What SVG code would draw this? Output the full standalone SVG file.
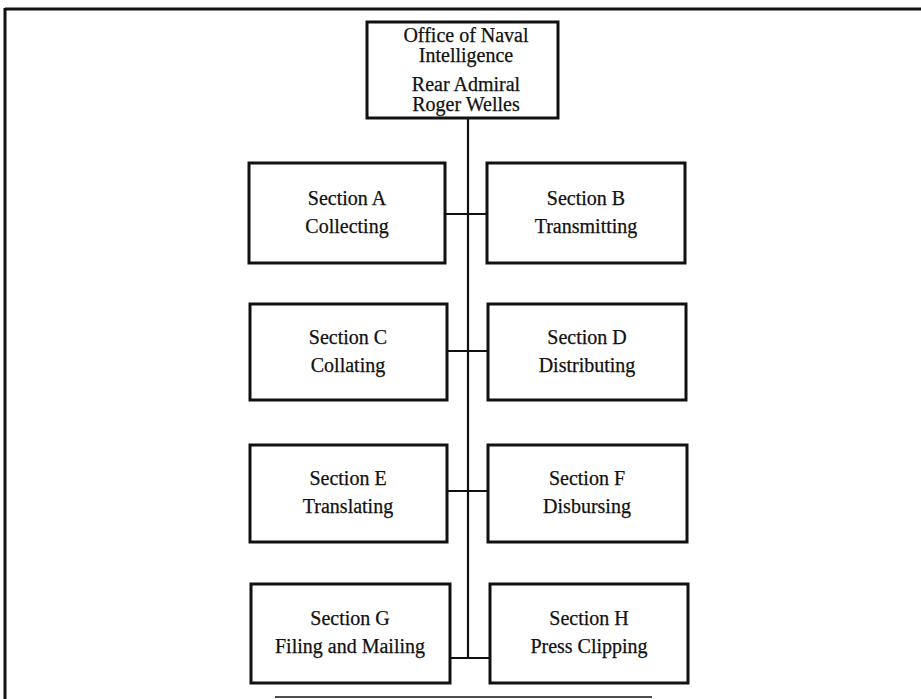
<svg xmlns="http://www.w3.org/2000/svg" width="921" height="699" viewBox="0 0 921 699">
<style>
.box{fill:#fff;stroke:#111;stroke-width:3}
.ln{stroke:#111;stroke-width:2.2;fill:none}
.frame{stroke:#111;fill:none}
text{font-family:"Liberation Serif","Times New Roman",serif;font-size:20px;fill:#111;text-anchor:middle;stroke:#111;stroke-width:0.25}
</style>
<rect width="921" height="699" fill="#fff"/>
<g id="frame">
<line class="frame" x1="5" y1="9" x2="921" y2="9" stroke-width="3"/>
<line class="frame" x1="5" y1="8" x2="5" y2="699" stroke-width="3"/>
<line class="frame" x1="275" y1="697" x2="652" y2="697" stroke-width="1.5"/>
</g>
<g id="connectors">
<line class="ln" x1="468" y1="118" x2="468" y2="658"/>
<line class="ln" x1="445" y1="214" x2="487" y2="214"/>
<line class="ln" x1="447" y1="351" x2="488" y2="351"/>
<line class="ln" x1="447" y1="491" x2="488" y2="491"/>
<line class="ln" x1="450" y1="658" x2="490" y2="658"/>
</g>
<g id="oni">
<rect class="box" x="367" y="22" width="191" height="96"/>
<text x="466" y="42">Office of Naval</text>
<text x="466" y="62">Intelligence</text>
<text x="466" y="91">Rear Admiral</text>
<text x="466" y="111">Roger Welles</text>
</g>
<g id="secA">
<rect class="box" x="249" y="163" width="196" height="100"/>
<text x="347" y="205">Section A</text>
<text x="347" y="233">Collecting</text>
</g>
<g id="secB">
<rect class="box" x="487" y="163" width="198" height="100"/>
<text x="586" y="205">Section B</text>
<text x="586" y="233">Transmitting</text>
</g>
<g id="secC">
<rect class="box" x="250" y="304" width="197" height="96"/>
<text x="348" y="344">Section C</text>
<text x="348" y="372">Collating</text>
</g>
<g id="secD">
<rect class="box" x="488" y="304" width="198" height="96"/>
<text x="587" y="344">Section D</text>
<text x="587" y="372">Distributing</text>
</g>
<g id="secE">
<rect class="box" x="250" y="445" width="197" height="97"/>
<text x="348" y="485">Section E</text>
<text x="348" y="513">Translating</text>
</g>
<g id="secF">
<rect class="box" x="488" y="445" width="199" height="97"/>
<text x="587" y="485">Section F</text>
<text x="587" y="513">Disbursing</text>
</g>
<g id="secG">
<rect class="box" x="251" y="584" width="199" height="99"/>
<text x="350" y="625">Section G</text>
<text x="350" y="653">Filing and Mailing</text>
</g>
<g id="secH">
<rect class="box" x="490" y="584" width="198" height="99"/>
<text x="589" y="625">Section H</text>
<text x="589" y="653">Press Clipping</text>
</g>
</svg>
